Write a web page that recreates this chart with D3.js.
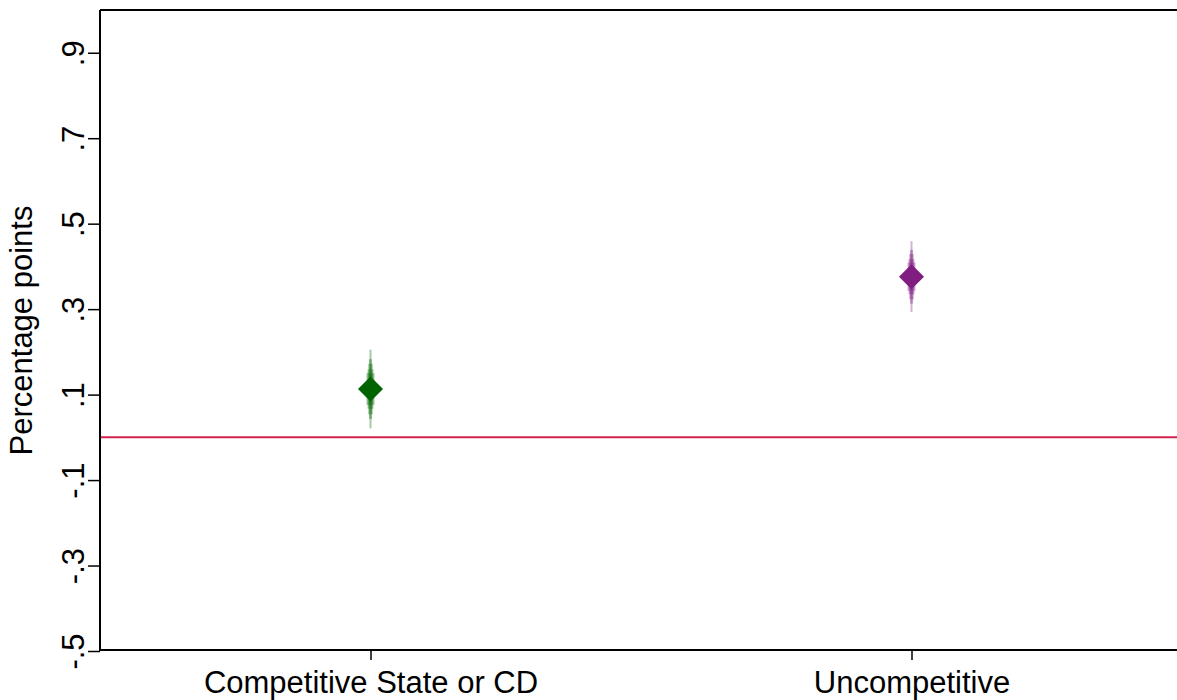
<!DOCTYPE html>
<html>
<head>
<meta charset="utf-8">
<script src="https://cdn.jsdelivr.net/npm/d3@7"></script>
<style>
  html, body { margin: 0; padding: 0; background: #fff; }
  svg { display: block; font-family: "Liberation Sans", Arial, Helvetica, sans-serif; }
</style>
</head>
<body>
<svg id="chart" width="1177" height="700"></svg>
<script>
// Groups and point estimates
const categories = ["Competitive State or CD", "Uncompetitive"];
const estimates = [0.113, 0.376];
const colors = ["#006400", "#7f1d80"];

// Confidence bounds, from widest (99%) to narrowest (70%)
const ciLevels = [99, 95, 90, 80, 70];
const lowerCompetitive = [0.021, 0.043, 0.054, 0.067, 0.076];
const upperCompetitive = [0.205, 0.183, 0.172, 0.159, 0.150];
const lowerUncompetitive = [0.293, 0.313, 0.323, 0.335, 0.343];
const upperUncompetitive = [0.459, 0.439, 0.429, 0.417, 0.409];

const yTicks = [-0.5, -0.3, -0.1, 0.1, 0.3, 0.5, 0.7, 0.9];
const yTickLabels = ["-.5", "-.3", "-.1", ".1", ".3", ".5", ".7", ".9"];
const refValue = 0;

const lowers = [lowerCompetitive, lowerUncompetitive];
const uppers = [upperCompetitive, upperUncompetitive];

const W = 1177, H = 700;
const plotLeft = 100, plotTop = 10, plotBottom = 651;

const svg = d3.select("#chart");

const x = d3.scalePoint().domain(categories).range([plotLeft, 1182]).padding(0.5);
const y = d3.scaleLinear().domain([-0.5, 1.0]).range([plotBottom, plotTop]);

// Reference line at zero
svg.append("line")
  .attr("x1", plotLeft).attr("x2", W)
  .attr("y1", y(refValue)).attr("y2", y(refValue))
  .attr("stroke", "#d3214f").attr("stroke-width", 2);

// Top frame line
svg.append("line")
  .attr("x1", plotLeft).attr("x2", W)
  .attr("y1", plotTop).attr("y2", plotTop)
  .attr("stroke", "#000").attr("stroke-width", 2);

// Y axis
const yAxis = d3.axisLeft(y)
  .tickValues(yTicks)
  .tickFormat((d, i) => yTickLabels[i])
  .tickSize(12)
  .tickSizeOuter(0);
const gy = svg.append("g").attr("transform", `translate(${plotLeft},0)`).call(yAxis);
gy.select(".domain").attr("stroke", "#000").attr("stroke-width", 2).attr("d", `M0,${plotTop}V${plotBottom}`);
gy.selectAll(".tick line").attr("stroke", "#000").attr("stroke-width", 1.5);
gy.selectAll(".tick text")
  .attr("font-size", 31)
  .attr("fill", "#000")
  .attr("text-anchor", "middle")
  .attr("dy", 0)
  .attr("x", 0)
  .attr("transform", "translate(-16,0) rotate(-90)");

// X axis
const xAxis = d3.axisBottom(x).tickSize(10).tickSizeOuter(0);
const gx = svg.append("g").attr("transform", `translate(0,${plotBottom - 1})`).call(xAxis);
gx.select(".domain").attr("stroke", "#000").attr("stroke-width", 2).attr("d", `M${plotLeft},0H${W}`);
gx.selectAll(".tick line").attr("stroke", "#000").attr("stroke-width", 1.5);
gx.selectAll(".tick text")
  .attr("font-size", 31)
  .attr("fill", "#000")
  .attr("y", 43)
  .attr("dy", 0);

// Y axis title
svg.append("text")
  .attr("transform", `translate(32,${(plotTop + plotBottom) / 2}) rotate(-90)`)
  .attr("text-anchor", "middle")
  .attr("font-size", 31)
  .attr("fill", "#000")
  .text("Percentage points");

// Layered confidence spikes: wider bands are thinner and lighter
const spikeWidths = [2, 3, 4.5, 6, 8];
categories.forEach((c, i) => {
  const g = svg.append("g");
  ciLevels.forEach((lvl, j) => {
    g.append("rect")
      .attr("x", x(c) - spikeWidths[j] / 2)
      .attr("width", spikeWidths[j])
      .attr("y", y(uppers[i][j]))
      .attr("height", y(lowers[i][j]) - y(uppers[i][j]))
      .attr("fill", colors[i])
      .attr("fill-opacity", 0.35);
  });
  // Diamond marker at the point estimate
  g.append("path")
    .attr("transform", `translate(${x(c)},${y(estimates[i])})`)
    .attr("d", "M0,-12.5L12.5,0L0,12.5L-12.5,0Z")
    .attr("fill", colors[i]);
});
</script>
</body>
</html>
